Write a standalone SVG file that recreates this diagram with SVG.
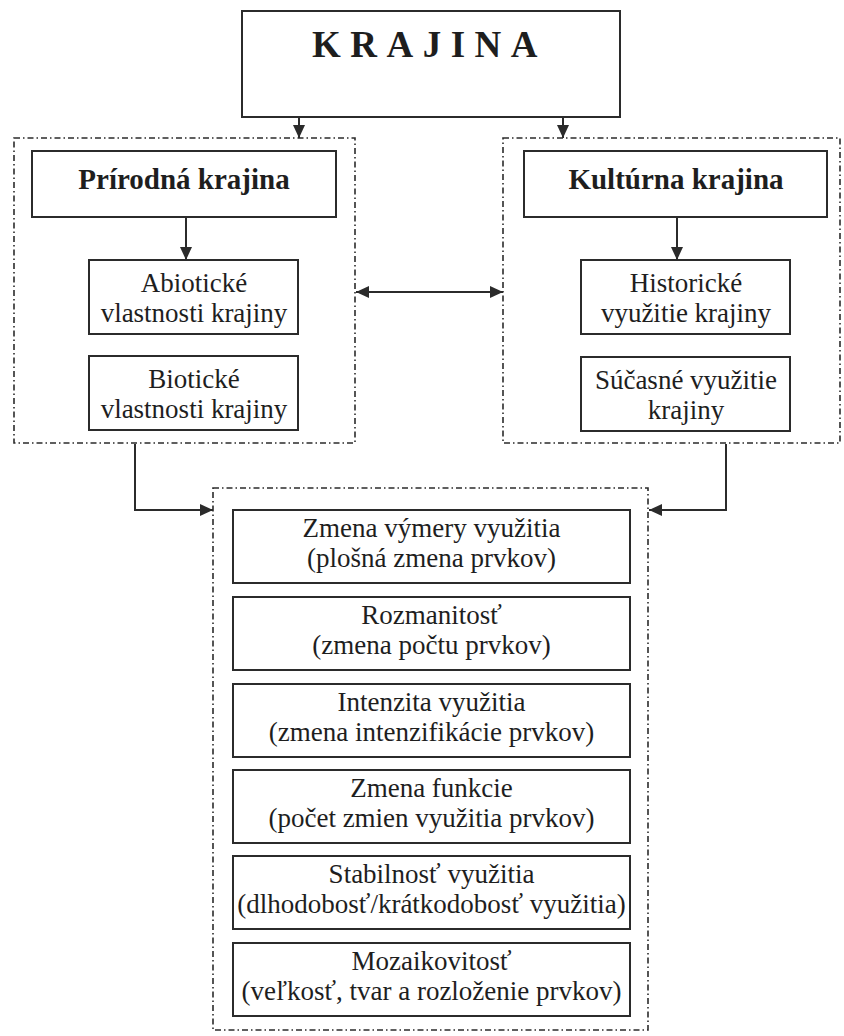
<svg xmlns="http://www.w3.org/2000/svg" width="844" height="1036" viewBox="0 0 844 1036">
<style>
.box{fill:#fff;stroke:#2b2b2b;stroke-width:2}
.grp{fill:none;stroke:#2b2b2b;stroke-width:1.6;stroke-dasharray:6 3 1.5 3}
.t{font-family:"Liberation Serif","Times New Roman",serif;font-size:27px;fill:#1e1e1e;text-anchor:middle}
.b{font-family:"Liberation Serif","Times New Roman",serif;font-size:29px;font-weight:bold;fill:#1e1e1e;text-anchor:middle}
.c{fill:none;stroke:#2b2b2b;stroke-width:2}
</style>
<defs>
<marker id="ah" markerUnits="userSpaceOnUse" markerWidth="14" markerHeight="12" refX="13" refY="6" orient="auto-start-reverse">
<path d="M0,0 L13,6 L0,12 z" fill="#2b2b2b"/>
</marker>
</defs>
<rect width="844" height="1036" fill="#fff"/>

<g id="group-prirodna"><rect class="grp" x="14" y="138" width="341" height="305"/></g>
<g id="group-kulturna"><rect class="grp" x="503" y="138" width="337" height="305"/></g>
<g id="group-zmeny"><rect class="grp" x="213" y="488" width="435" height="542"/></g>

<g id="krajina">
<rect class="box" x="242" y="11" width="378" height="106"/>
<text x="312" y="57" font-family="Liberation Serif,'Times New Roman',serif" font-size="37" font-weight="bold" fill="#1e1e1e" letter-spacing="9.5">KRAJINA</text>
</g>

<g id="prirodna">
<rect class="box" x="32" y="151" width="304" height="66"/>
<text class="b" x="184" y="189">Prírodná krajina</text>
</g>
<g id="abioticke">
<rect class="box" x="89" y="260" width="209" height="74"/>
<text class="t" x="194" y="292">Abiotické</text>
<text class="t" x="194" y="322">vlastnosti krajiny</text>
</g>
<g id="bioticke">
<rect class="box" x="89" y="356" width="209" height="74"/>
<text class="t" x="194" y="388">Biotické</text>
<text class="t" x="194" y="418">vlastnosti krajiny</text>
</g>

<g id="kulturna">
<rect class="box" x="524" y="151" width="303" height="66"/>
<text class="b" x="676" y="189">Kultúrna krajina</text>
</g>
<g id="historicke">
<rect class="box" x="581" y="260" width="209" height="74"/>
<text class="t" x="686" y="292">Historické</text>
<text class="t" x="686" y="322">využitie krajiny</text>
</g>
<g id="sucasne">
<rect class="box" x="581" y="357" width="209" height="74"/>
<text class="t" x="686" y="389">Súčasné využitie</text>
<text class="t" x="686" y="419">krajiny</text>
</g>

<g id="zmena-vymery">
<rect class="box" x="233" y="510" width="397" height="73"/>
<text class="t" x="431.5" y="537">Zmena výmery využitia</text>
<text class="t" x="431.5" y="567">(plošná zmena prvkov)</text>
</g>
<g id="rozmanitost">
<rect class="box" x="233" y="597" width="397" height="73"/>
<text class="t" x="431.5" y="624">Rozmanitosť</text>
<text class="t" x="431.5" y="654">(zmena počtu prvkov)</text>
</g>
<g id="intenzita">
<rect class="box" x="233" y="684" width="397" height="73"/>
<text class="t" x="431.5" y="711">Intenzita využitia</text>
<text class="t" x="431.5" y="741">(zmena intenzifikácie prvkov)</text>
</g>
<g id="zmena-funkcie">
<rect class="box" x="233" y="770" width="397" height="73"/>
<text class="t" x="431.5" y="797">Zmena funkcie</text>
<text class="t" x="431.5" y="827">(počet zmien využitia prvkov)</text>
</g>
<g id="stabilnost">
<rect class="box" x="233" y="856" width="397" height="73"/>
<text class="t" x="431.5" y="883">Stabilnosť využitia</text>
<text class="t" x="431.5" y="913">(dlhodobosť/krátkodobosť využitia)</text>
</g>
<g id="mozaikovitost">
<rect class="box" x="233" y="943" width="397" height="73"/>
<text class="t" x="431.5" y="970">Mozaikovitosť</text>
<text class="t" x="431.5" y="1000">(veľkosť, tvar a rozloženie prvkov)</text>
</g>

<g id="connectors">
<path class="c" d="M299,117 V138" marker-end="url(#ah)"/>
<path class="c" d="M563,117 V138" marker-end="url(#ah)"/>
<path class="c" d="M186,217 V260" marker-end="url(#ah)"/>
<path class="c" d="M677,217 V260" marker-end="url(#ah)"/>
<path class="c" d="M356,292 H503" marker-start="url(#ah)" marker-end="url(#ah)"/>
<path class="c" d="M135,444 V510 H213" marker-end="url(#ah)"/>
<path class="c" d="M726,444 V510 H649" marker-end="url(#ah)"/>
</g>
</svg>
